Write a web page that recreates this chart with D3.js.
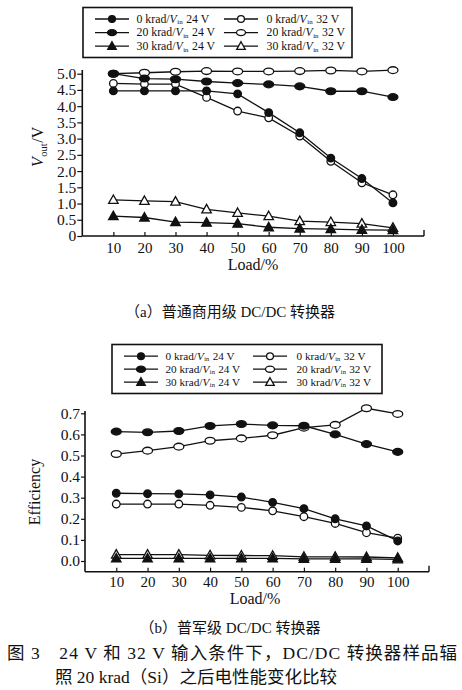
<!DOCTYPE html>
<html>
<head>
<meta charset="utf-8">
<script src="https://cdn.jsdelivr.net/npm/d3@7"></script>
<style>
  html, body { margin: 0; padding: 0; background: #fff; }
  svg { display: block; }
  text { font-family: 'Liberation Serif', 'Noto Sans CJK SC', serif; fill: #111; }
</style>
</head>
<body>
<div id="chart"></div>
<script>
// ---- data ----
const loads = [10, 20, 30, 40, 50, 60, 70, 80, 90, 100];
const xTicks = [10, 20, 30, 40, 50, 60, 70, 80, 90, 100];

// (a) output voltage, V
const vout0k24 = [4.47, 4.47, 4.47, 4.47, 4.38, 3.80, 3.18, 2.40, 1.77, 1.02];
const vout0k32 = [4.70, 4.68, 4.68, 4.27, 3.85, 3.64, 3.08, 2.30, 1.64, 1.27];
const vout20k24 = [5.00, 4.85, 4.83, 4.76, 4.71, 4.67, 4.61, 4.46, 4.46, 4.28];
const vout20k32 = [5.00, 5.03, 5.06, 5.08, 5.07, 5.07, 5.08, 5.10, 5.07, 5.11];
const vout30k24 = [0.61, 0.57, 0.43, 0.41, 0.38, 0.27, 0.23, 0.21, 0.19, 0.18];
const vout30k32 = [1.11, 1.08, 1.06, 0.82, 0.71, 0.61, 0.46, 0.43, 0.38, 0.25];
const voutTicks = [0, 0.5, 1.0, 1.5, 2.0, 2.5, 3.0, 3.5, 4.0, 4.5, 5.0];

// (b) efficiency
const eff0k24 = [0.321, 0.319, 0.318, 0.313, 0.303, 0.278, 0.248, 0.200, 0.166, 0.095];
const eff0k32 = [0.270, 0.270, 0.270, 0.264, 0.254, 0.238, 0.210, 0.178, 0.134, 0.108];
const eff20k24 = [0.613, 0.610, 0.616, 0.640, 0.649, 0.643, 0.641, 0.600, 0.554, 0.517];
const eff20k32 = [0.507, 0.523, 0.542, 0.570, 0.581, 0.596, 0.632, 0.645, 0.724, 0.697];
const eff30k24 = [0.012, 0.012, 0.012, 0.012, 0.012, 0.012, 0.010, 0.010, 0.010, 0.008];
const eff30k32 = [0.030, 0.030, 0.030, 0.027, 0.026, 0.025, 0.020, 0.020, 0.019, 0.015];
const effTicks = [0.0, 0.1, 0.2, 0.3, 0.4, 0.5, 0.6, 0.7];

// legend entries: dose, input voltage, marker
const legendItems = [
  { dose: '0 krad/', vin: '24 V', marker: 'dot' },
  { dose: '0 krad/', vin: '32 V', marker: 'ocircle' },
  { dose: '20 krad/', vin: '24 V', marker: 'dell' },
  { dose: '20 krad/', vin: '32 V', marker: 'oell' },
  { dose: '30 krad/', vin: '24 V', marker: 'dtri' },
  { dose: '30 krad/', vin: '32 V', marker: 'otri' }
];

const W = 462, H = 690;
const svg = d3.select('#chart').append('svg')
  .attr('width', W).attr('height', H)
  .attr('viewBox', [0, 0, W, H]);

// marker drawing
function drawMarker(g, type, x, y, s) {
  s = s || 1;
  const filled = type.startsWith('d');
  const fill = filled ? '#111' : '#fff';
  if (type === 'dot' || type === 'ocircle') {
    g.append('circle').attr('cx', x).attr('cy', y).attr('r', 3.8 * s)
      .attr('fill', fill).attr('stroke', '#111').attr('stroke-width', 1.3);
  } else if (type === 'dell' || type === 'oell') {
    g.append('ellipse').attr('cx', x).attr('cy', y).attr('rx', 5 * s).attr('ry', 3.4 * s)
      .attr('fill', fill).attr('stroke', '#111').attr('stroke-width', 1.3);
  } else {
    const r = 5 * s;
    g.append('path')
      .attr('d', `M${x},${y - r}L${x + r * 0.95},${y + r * 0.7}L${x - r * 0.95},${y + r * 0.7}Z`)
      .attr('fill', fill).attr('stroke', '#111').attr('stroke-width', 1.3);
  }
}

// text pieces laid out one after another (for subscripts)
function pieces(g, x, y, parts) {
  let cx = x;
  parts.forEach(p => {
    const t = g.append('text').attr('x', cx).attr('y', y + (p.dy || 0))
      .attr('font-size', p.size).text(p.text);
    if (p.italic) t.attr('font-style', 'italic');
    cx += t.node().getComputedTextLength() + (p.gap || 0);
  });
  return cx - x;
}

function drawLegend(box, font) {
  const g = svg.append('g');
  g.append('rect').attr('x', box.x).attr('y', box.y).attr('width', box.w).attr('height', box.h)
    .attr('fill', '#fff').attr('stroke', '#111').attr('stroke-width', 1.6);
  legendItems.forEach((d, i) => {
    const col = i % 2, row = Math.floor(i / 2);
    const cx = box.cols[col];
    const cy = box.rows[row];
    g.append('line').attr('x1', cx - 17).attr('x2', cx + 17).attr('y1', cy).attr('y2', cy)
      .attr('stroke', '#111').attr('stroke-width', 1.3);
    drawMarker(g, d.marker, cx, cy, 0.9);
    pieces(g, box.texts[col], cy + font * 0.33, [
      { text: d.dose, size: font },
      { text: 'V', size: font, italic: true, gap: 0.5 },
      { text: 'in', size: font * 0.58, dy: 1.6, gap: font * 0.3 },
      { text: d.vin, size: font }
    ]);
  });
}

function drawPanel(p) {
  const x = d3.scaleLinear().domain([0, 110]).range([p.x0, p.x1]);
  const y = d3.scaleLinear().domain([p.yDomain[0], p.yDomain[1]]).range([p.yRange[0], p.yRange[1]]);
  const g = svg.append('g');

  // axes
  const xAxis = d3.axisBottom(x).tickValues(xTicks).tickSize(-4).tickPadding(p.xPad)
    .tickSizeOuter(0).tickFormat(d3.format('d'));
  const gx = g.append('g').attr('transform', `translate(0,${p.axisY})`).call(xAxis);
  gx.select('.domain').remove();
  g.append('line').attr('x1', p.x0).attr('x2', p.x1).attr('y1', p.axisY).attr('y2', p.axisY)
    .attr('stroke', '#111').attr('stroke-width', 1.6);
  g.append('line').attr('x1', p.x1).attr('x2', p.x1).attr('y1', p.axisY).attr('y2', p.axisY - 6)
    .attr('stroke', '#111').attr('stroke-width', 1.4);
  gx.selectAll('.tick line').attr('stroke', '#111').attr('stroke-width', 1.2);
  gx.selectAll('.tick text').attr('font-size', 15).attr('fill', '#111')
    .attr('font-family', "'Liberation Serif', serif");

  const yAxis = d3.axisLeft(y).tickValues(p.yTicks).tickSize(p.yTickSize).tickPadding(p.yPad)
    .tickSizeOuter(0).tickFormat(p.yFormat);
  const gy = g.append('g').attr('transform', `translate(${p.x0},0)`).call(yAxis);
  gy.select('.domain').remove();
  g.append('line').attr('x1', p.x0).attr('x2', p.x0).attr('y1', p.axisY).attr('y2', p.yTop)
    .attr('stroke', '#111').attr('stroke-width', 1.6);
  gy.selectAll('.tick line').attr('stroke', '#111').attr('stroke-width', 1.2);
  gy.selectAll('.tick text').attr('font-size', 15.5).attr('fill', '#111')
    .attr('font-family', "'Liberation Serif', serif");

  // series lines
  const line = d3.line().x((d, i) => x(loads[i])).y(d => y(d));
  p.series.forEach(s => {
    g.append('path').attr('d', line(s.values)).attr('fill', 'none')
      .attr('stroke', '#111').attr('stroke-width', 1.3);
  });
  p.series.forEach(s => {
    s.values.forEach((v, i) => drawMarker(g, s.marker, x(loads[i]), y(v)));
  });

  // x title
  g.append('text').attr('x', p.xTitleX).attr('y', p.xTitleY).attr('text-anchor', 'middle')
    .attr('font-size', 16).text('Load/%');

  return { g, x, y };
}

// ---------- panel (a) ----------
drawLegend({ x: 83, y: 7.5, w: 269, h: 50, rows: [19, 32.6, 46.2], cols: [112, 241], texts: [136.5, 266.5] }, 11.8);

drawPanel({
  x0: 82.3, x1: 424, axisY: 236, yTop: 70,
  yDomain: [0, 5], yRange: [236, 73.7], yTicks: voutTicks,
  yFormat: d => d === 0 ? '0' : d3.format('.1f')(d),
  yTickSize: 5, yPad: 1, xPad: 6,
  xTitleX: 253, xTitleY: 270,
  series: [
    { values: vout30k32, marker: 'otri' },
    { values: vout30k24, marker: 'dtri' },
    { values: vout0k32, marker: 'ocircle' },
    { values: vout0k24, marker: 'dot' },
    { values: vout20k32, marker: 'oell' },
    { values: vout20k24, marker: 'dell' }
  ]
});

// y title (a): V_out/V, rotated
const ya = svg.append('g').attr('transform', 'translate(43,167) rotate(-90)');
pieces(ya, 0, 0, [
  { text: 'V', size: 16, italic: true, gap: 0.5 },
  { text: 'out', size: 10.5, dy: 3.5, gap: 0.5 },
  { text: '/V', size: 16 }
]);

svg.append('text').attr('x', 230).attr('y', 317).attr('text-anchor', 'middle')
  .attr('font-size', 15).text('（a）普通商用级 DC/DC 转换器');

// ---------- panel (b) ----------
drawLegend({ x: 112, y: 344.5, w: 270, h: 49, rows: [356.2, 369.2, 382.2], cols: [141, 270], texts: [165.5, 296.5] }, 11.2);

drawPanel({
  x0: 85, x1: 429, axisY: 571.7, yTop: 411,
  yDomain: [0, 0.7], yRange: [561, 413.3], yTicks: effTicks,
  yFormat: d3.format('.1f'),
  yTickSize: 4, yPad: 1, xPad: 5,
  xTitleX: 255, xTitleY: 603.5,
  series: [
    { values: eff30k32, marker: 'otri' },
    { values: eff30k24, marker: 'dtri' },
    { values: eff0k32, marker: 'ocircle' },
    { values: eff0k24, marker: 'dot' },
    { values: eff20k32, marker: 'oell' },
    { values: eff20k24, marker: 'dell' }
  ]
});

svg.append('text').attr('transform', 'translate(40,492) rotate(-90)')
  .attr('text-anchor', 'middle').attr('font-size', 16).text('Efficiency');

svg.append('text').attr('x', 230).attr('y', 633).attr('text-anchor', 'middle')
  .attr('font-size', 15).text('（b）普军级 DC/DC 转换器');

// figure caption
svg.append('text').attr('x', 7).attr('y', 658.5).attr('font-size', 17.5)
  .attr('textLength', 450).attr('lengthAdjust', 'spacing')
  .text('图 3　24 V 和 32 V 输入条件下，DC/DC 转换器样品辐');
svg.append('text').attr('x', 55).attr('y', 683).attr('font-size', 17.5)
  .text('照 20 krad（Si）之后电性能变化比较');
</script>
</body>
</html>
